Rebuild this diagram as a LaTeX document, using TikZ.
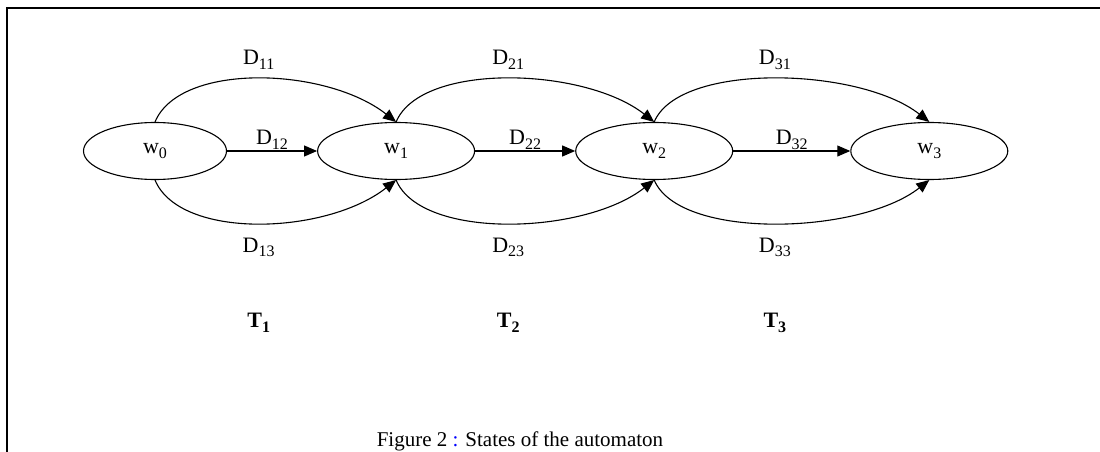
\documentclass[tikz,border=0pt]{standalone}
\usepackage{fontspec}
\setmainfont{Liberation Serif}
\usepackage{tikz}
\usetikzlibrary{shapes.geometric, arrows.meta, positioning}
\definecolor{cBlue}{RGB}{0,0,255}
\newcommand{\idx}[1]{\raisebox{-0.45ex}{\fontsize{16}{16}\selectfont #1}}
\tikzset{
	state/.style={ellipse, draw=black, line width=1.1pt, minimum width=157pt, minimum height=57pt, inner sep=0pt},
	trans/.style={-{Triangle[length=13pt, width=11pt]}, line width=1.1pt},
	lbl/.style={inner sep=1pt},
	tlbl/.style={inner sep=1pt, font=\fontsize{22}{24}\selectfont\bfseries},
}

\begin{document}
\begin{tikzpicture}[x=1pt, y=-1pt, every node/.style={font=\fontsize{22}{24}\selectfont}]
	\useasboundingbox (0,0) rectangle (1100,452);
	\draw[line width=2pt] (7,452) -- (7,8) -- (1100,8);
	% states
	\node[state, minimum width=143pt] (w0) at (155,151) {w\idx{0}};
	\node[state, right=90pt of w0] (w1) {w\idx{1}};
	\node[state, right=100pt of w1] (w2) {w\idx{2}};
	\node[state, right=117pt of w2] (w3) {w\idx{3}};
	% direct transitions
	\draw[trans] (w0) -- node[lbl, above] (d12) {D\idx{12}} (w1);
	\draw[trans] (w1) -- node[lbl, above] (d22) {D\idx{22}} (w2);
	\draw[trans] (w2) -- node[lbl, above] (d32) {D\idx{32}} (w3);
	% upper arcs
	\draw[trans] (w0.north) .. controls +(25,-60) and +(-70,-55) .. node[lbl, midway, above=8pt] (d11) {D\idx{11}} (w1.north);
	\draw[trans] (w1.north) .. controls +(25,-60) and +(-70,-55) .. node[lbl, midway, above=8pt] (d21) {D\idx{21}} (w2.north);
	\draw[trans] (w2.north) .. controls +(25,-60) and +(-70,-55) .. node[lbl, midway, above=8pt] (d31) {D\idx{31}} (w3.north);
	% lower arcs
	\draw[trans] (w0.south) .. controls +(25,60) and +(-70,55) .. node[lbl, midway, below=13pt] (d13) {D\idx{13}} (w1.south);
	\draw[trans] (w1.south) .. controls +(25,60) and +(-70,55) .. node[lbl, midway, below=13pt] (d23) {D\idx{23}} (w2.south);
	\draw[trans] (w2.south) .. controls +(25,60) and +(-70,55) .. node[lbl, midway, below=13pt] (d33) {D\idx{33}} (w3.south);
	% stages
	\node[tlbl, below=54pt of d13] (t1) {T\idx{1}};
	\node[tlbl, below=54pt of d23] (t2) {T\idx{2}};
	\node[tlbl, below=54pt of d33] (t3) {T\idx{3}};
	\node[anchor=base, font=\fontsize{21}{23}\selectfont] (cap) at (520,446) {Figure 2 \textcolor{cBlue}{:} States of the automaton};
\end{tikzpicture}
\end{document}
